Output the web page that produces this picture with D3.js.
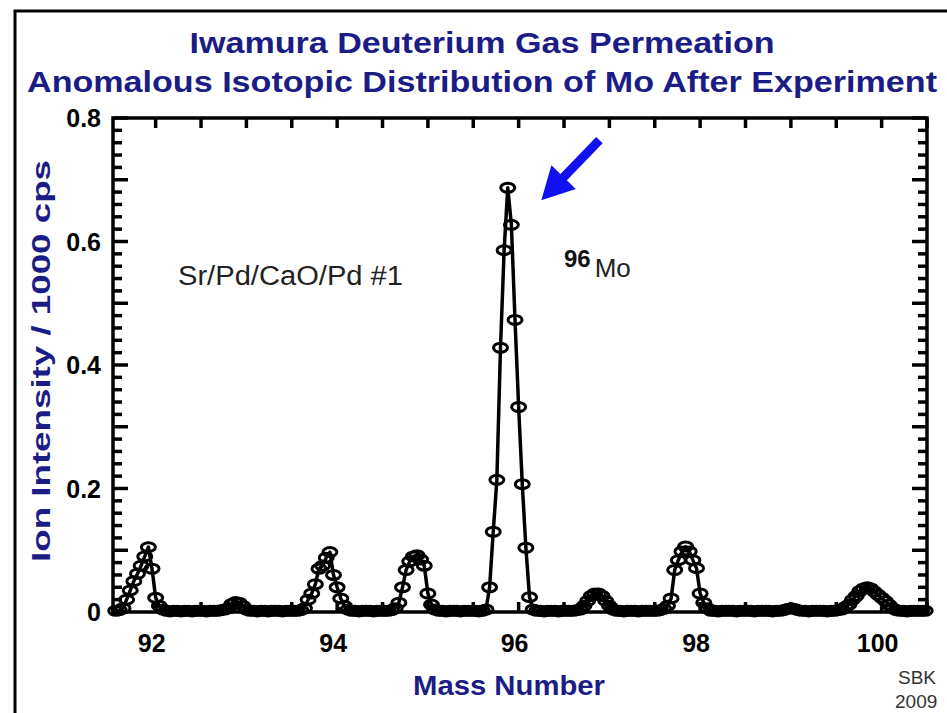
<!DOCTYPE html>
<html>
<head>
<meta charset="utf-8">
<script src="https://cdn.jsdelivr.net/npm/d3@7"></script>
<style>
body{margin:0;background:#fff;}
svg{display:block;font-family:"Liberation Sans",Arial,sans-serif;}
</style>
</head>
<body>
<script>
// scan start / step of the mass spectrum (amu)
var massStart=91.56, massStep=0.04
// Ion intensity (x1000 cps), one value per scan step
var intensity=[
  0.002,0.003,0.006,0.02,0.035,0.05,0.062,0.075,0.09,0.105,
  0.07,0.023,0.01,0.004,0.002,0.001,0.002,0.002,0.001,0.002,
  0.002,0.001,0.002,0.002,0.002,0.001,0.002,0.002,0.002,0.003,
  0.004,0.006,0.013,0.016,0.015,0.01,0.004,0.002,0.002,0.001,
  0.002,0.002,0.001,0.002,0.002,0.002,0.001,0.002,0.002,0.002,
  0.002,0.003,0.006,0.02,0.03,0.045,0.07,0.075,0.088,0.097,
  0.06,0.04,0.022,0.01,0.004,0.002,0.002,0.001,0.002,0.002,
  0.002,0.001,0.002,0.002,0.002,0.002,0.003,0.006,0.015,0.04,
  0.068,0.082,0.09,0.092,0.085,0.075,0.03,0.012,0.004,0.002,
  0.002,0.001,0.002,0.002,0.002,0.001,0.002,0.002,0.002,0.002,
  0.001,0.002,0.004,0.04,0.13,0.214,0.428,0.586,0.687,0.627,
  0.473,0.332,0.207,0.104,0.024,0.004,0.002,0.002,0.001,0.002,
  0.002,0.002,0.001,0.002,0.002,0.002,0.002,0.003,0.004,0.01,
  0.018,0.026,0.03,0.03,0.026,0.018,0.01,0.004,0.002,0.002,
  0.001,0.002,0.002,0.002,0.001,0.002,0.002,0.002,0.002,0.002,
  0.003,0.005,0.01,0.022,0.068,0.084,0.098,0.106,0.098,0.084,
  0.071,0.03,0.015,0.006,0.002,0.002,0.001,0.002,0.002,0.002,
  0.002,0.001,0.002,0.002,0.002,0.002,0.001,0.002,0.002,0.002,
  0.002,0.001,0.002,0.002,0.003,0.005,0.006,0.005,0.003,0.002,
  0.002,0.001,0.002,0.002,0.002,0.002,0.001,0.002,0.002,0.003,
  0.004,0.008,0.012,0.02,0.026,0.034,0.038,0.04,0.038,0.033,
  0.028,0.023,0.018,0.012,0.006,0.003,0.002,0.002,0.001,0.002,
  0.002,0.002,0.002,0.002
]
var xTicks=[92,94,96,98,100]
var yTicks=[0,0.2,0.4,0.6,0.8]
var yTickLabels=["0","0.2","0.4","0.6","0.8"]
var titleLines=["Iwamura Deuterium Gas Permeation","Anomalous Isotopic Distribution of Mo After Experiment"]
var xTitle="Mass Number"
var yTitle="Ion Intensity / 1000 cps"
var sampleLabel="Sr/Pd/CaO/Pd #1"
var xDomain=[91.53,100.5], yDomain=[0,0.8]

var navy="#1c1c86"
var W=947,H=713
var plot={left:113,right:927,top:118,bottom:612}

var svg=d3.select("body").append("svg").attr("width",W).attr("height",H)

// outer frame of the slide
svg.append("path")
   .attr("d","M15,"+(H+5)+" L15,11 L"+(W+5)+",11")
   .attr("fill","none").attr("stroke","#000").attr("stroke-width",3)

var x=d3.scaleLinear().domain(xDomain).range([plot.left,plot.right])
var y=d3.scaleLinear().domain(yDomain).range([plot.bottom,plot.top])

///////////////////////////////////////////////////////////////////
// titles
svg.selectAll(".title")
   .data(titleLines)
   .enter()
   .append("text")
   .attr("class","title")
   .attr("x",482)
   .attr("y",function(d,i){return 53+i*39})
   .attr("text-anchor","middle")
   .attr("font-size",30)
   .attr("font-weight","bold")
   .attr("fill",navy)
   .attr("textLength",function(d,i){return i==0?585:910})
   .attr("lengthAdjust","spacingAndGlyphs")
   .text(function(d){return d})

///////////////////////////////////////////////////////////////////
// ticks (inside the frame)
var minorY=d3.range(0,41).map(function(k){return k*0.02})
var ax=svg.append("g").attr("stroke","#000").attr("stroke-width",3.5)
ax.selectAll(".yl")
  .data(minorY)
  .enter()
  .append("line")
  .attr("x1",plot.left)
  .attr("x2",function(d,i){return plot.left+(i%5==0?15:9)})
  .attr("y1",function(d){return y(d)})
  .attr("y2",function(d){return y(d)})
ax.selectAll(".yr")
  .data(minorY)
  .enter()
  .append("line")
  .attr("x1",plot.right)
  .attr("x2",function(d,i){return plot.right-(i%5==0?15:9)})
  .attr("y1",function(d){return y(d)})
  .attr("y2",function(d){return y(d)})
var halfX=d3.range(0,18).map(function(k){return 92+k*0.5}).filter(function(d){return d<=xDomain[1]})
ax.selectAll(".xt")
  .data(halfX)
  .enter()
  .append("line")
  .attr("x1",function(d){return x(d)})
  .attr("x2",function(d){return x(d)})
  .attr("y1",plot.top)
  .attr("y2",plot.top+10)
ax.selectAll(".xb")
  .data(halfX)
  .enter()
  .append("line")
  .attr("x1",function(d){return x(d)})
  .attr("x2",function(d){return x(d)})
  .attr("y1",plot.bottom)
  .attr("y2",plot.bottom-10)

svg.append("rect")
   .attr("x",plot.left).attr("y",plot.top)
   .attr("width",plot.right-plot.left).attr("height",plot.bottom-plot.top)
   .attr("fill","none").attr("stroke","#000").attr("stroke-width",3.5)

// tick labels
svg.selectAll(".xlab")
   .data(xTicks)
   .enter()
   .append("text")
   .attr("x",function(d){return x(d)-4})
   .attr("y",652)
   .attr("text-anchor","middle")
   .attr("font-size",25)
   .attr("font-weight","bold")
   .text(function(d){return d})
svg.selectAll(".ylab")
   .data(yTicks)
   .enter()
   .append("text")
   .attr("x",101)
   .attr("y",function(d){return y(d)+9})
   .attr("text-anchor","end")
   .attr("font-size",25)
   .attr("font-weight","bold")
   .text(function(d,i){return yTickLabels[i]})

// axis titles
svg.append("text")
   .attr("x",509).attr("y",695)
   .attr("text-anchor","middle")
   .attr("font-size",28).attr("font-weight","bold").attr("fill",navy)
   .attr("textLength",192).attr("lengthAdjust","spacingAndGlyphs")
   .text(xTitle)
svg.append("text")
   .attr("transform","translate(50,361) rotate(-90)")
   .attr("text-anchor","middle")
   .attr("font-size",26).attr("font-weight","bold").attr("fill",navy)
   .attr("textLength",402).attr("lengthAdjust","spacingAndGlyphs")
   .text(yTitle)

///////////////////////////////////////////////////////////////////
// spectrum
var spectrum=intensity.map(function(v,i){
  return {mass:massStart+i*massStep,value:v}
})
var line=d3.line()
           .x(function(d){return x(d.mass)})
           .y(function(d){return y(d.value)})
svg.append("path")
   .datum(spectrum)
   .attr("d",line)
   .attr("fill","none")
   .attr("stroke","#000")
   .attr("stroke-width",3.5)
   .attr("stroke-linejoin","round")
svg.append("g")
   .selectAll("ellipse")
   .data(spectrum)
   .enter()
   .append("ellipse")
   .attr("cx",function(d){return x(d.mass)})
   .attr("cy",function(d){return y(d.value)})
   .attr("rx",7)
   .attr("ry",4.5)
   .attr("fill","none")
   .attr("stroke","#000")
   .attr("stroke-width",3)

///////////////////////////////////////////////////////////////////
// annotations
svg.append("text")
   .attr("x",178).attr("y",285)
   .attr("font-size",27).attr("fill","#222")
   .attr("textLength",225).attr("lengthAdjust","spacingAndGlyphs")
   .text(sampleLabel)
var iso=svg.append("text").attr("x",564).attr("y",267).attr("fill","#111")
iso.append("tspan").attr("font-size",24).attr("font-weight","bold").text("96")
iso.append("tspan").attr("font-size",26).attr("dx",4).attr("dy",10).attr("fill","#222").text("Mo")

// blue arrow pointing at the 96Mo peak
var tail=[x(96.89),y(0.764)], tip=[x(96.25),y(0.667)]
var dx=tip[0]-tail[0], dy=tip[1]-tail[1], len=Math.sqrt(dx*dx+dy*dy)
var ux=dx/len, uy=dy/len, headLen=32, headHalf=17
var base=[tip[0]-ux*headLen,tip[1]-uy*headLen]
svg.append("line")
   .attr("x1",tail[0]).attr("y1",tail[1])
   .attr("x2",base[0]+ux*4).attr("y2",base[1]+uy*4)
   .attr("stroke","#1010f0").attr("stroke-width",9)
svg.append("path")
   .attr("d","M"+tip[0]+","+tip[1]+
             " L"+(base[0]-uy*headHalf)+","+(base[1]+ux*headHalf)+
             " L"+(base[0]+uy*headHalf)+","+(base[1]-ux*headHalf)+"Z")
   .attr("fill","#1010f0")

// signature
svg.append("text").attr("x",898).attr("y",684).attr("font-size",19).attr("fill","#333").text("SBK")
svg.append("text").attr("x",895).attr("y",708).attr("font-size",19).attr("fill","#333").text("2009")
</script>
</body>
</html>
